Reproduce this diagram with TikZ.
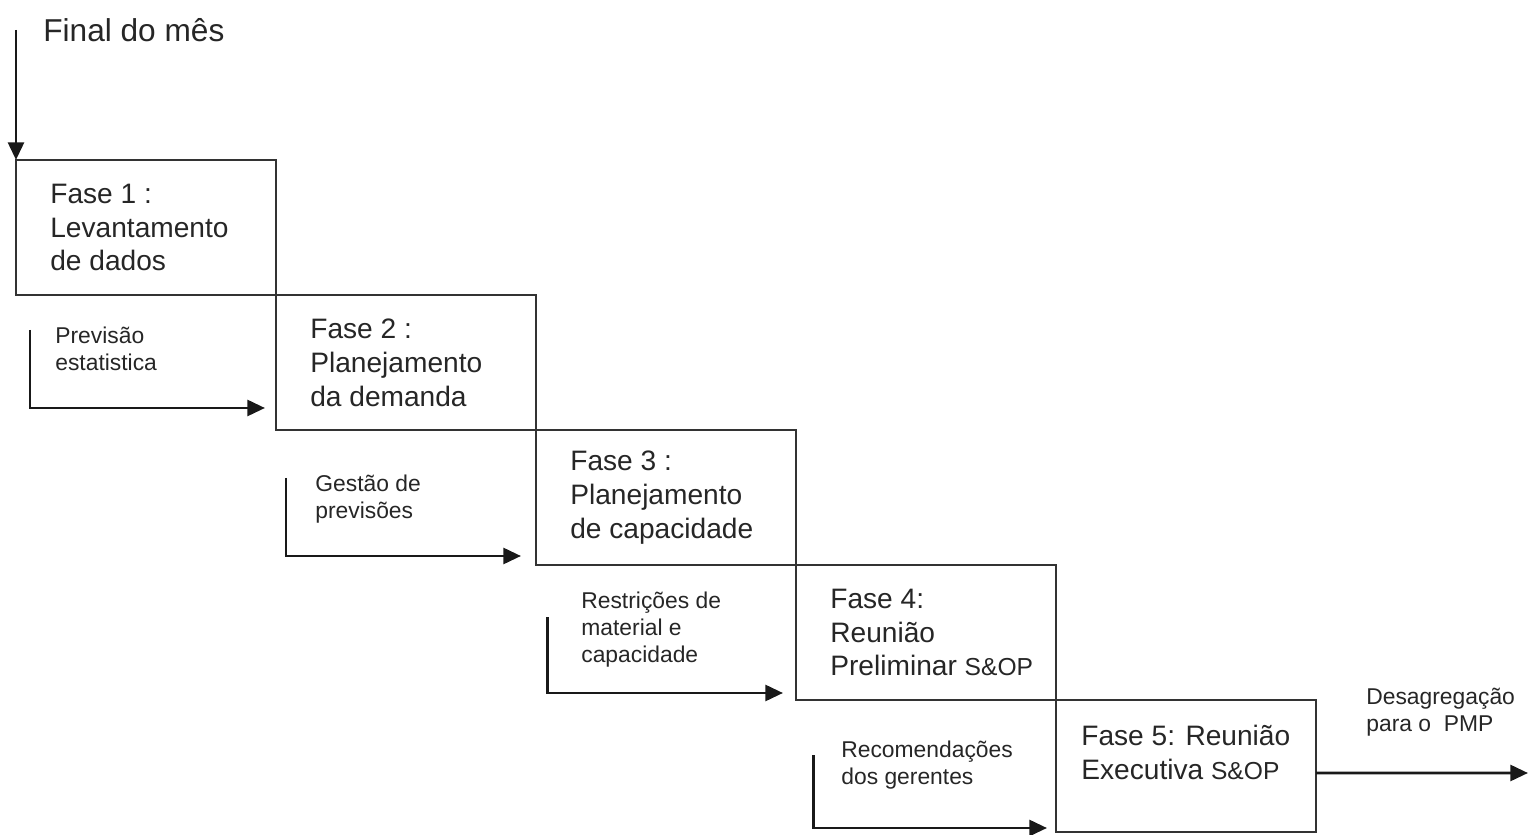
\documentclass[tikz,border=0pt]{standalone}
\usepackage{fontspec}
\setmainfont{Liberation Sans}
\usetikzlibrary{positioning,arrows.meta}

\begin{document}
\begin{tikzpicture}[fase/.style={draw=black!80,line width=1.1pt,minimum width=5.2cm,minimum height=2.7cm,inner sep=0pt,outer sep=0pt,anchor=north west},
  txt/.style={inner sep=0pt,align=left,text=black!85,font=\fontsize{16}{19.3}\selectfont},
  nota/.style={inner sep=0pt,align=left,text=black!85,font=\fontsize{13}{15.4}\selectfont},
  seta/.style={line width=1.7pt,draw=black!90,-{Triangle[length=10pt,width=9pt]}}]
 % \draw[help lines] (0,0) grid (30,16);
  \useasboundingbox (0,0) rectangle (30.6,16.68);
  \node[fase] (f1) at (0.32,13.48) {};
  \node[fase] (f2) at (f1.south east) {};
  \node[fase] (f3) at (f2.south east) {};
  \node[fase] (f4) at (f3.south east) {};
  \node[fase,minimum height=2.64cm] (f5) at (f4.south east) {};
  \node[txt,right=0.68cm of f1.west] (t1) {Fase 1 :\\Levantamento\\de dados};
  \node[txt,right=0.68cm of f2.west] (t2) {Fase 2 :\\Planejamento\\da demanda};
  \node[txt,right=0.68cm of f3.west] (t3) {Fase 3 :\\Planejamento\\de capacidade};
  \node[txt,right=0.68cm of f4.west] (t4) {Fase 4:\\Reunião\\Preliminar {\fontsize{14}{16}\selectfont S\&OP}};
  \node[txt,anchor=west] (t5) at ([shift={(0.5,-1.04)}]f5.north west) {Fase 5: Reunião\\Executiva {\fontsize{14}{16}\selectfont S\&OP}};
  \coordinate (inicio) at (0.32,16.08);
  \node[txt,anchor=west,font=\fontsize{18}{21}\selectfont] (fim) at (0.86,16.08) {Final do mês};
  \draw[seta] (inicio) -- (f1.north west);
  \coordinate (a1) at (0.60,10.08);
  \coordinate (a2) at (5.72,7.12);
  \coordinate (a3) at (10.94,4.34);
  \coordinate (a4) at (16.26,1.58);
  \node[nota,anchor=west] (l1) at (1.10,9.71) {Previsão\\estatistica};
  \node[nota,anchor=west] (l2) at (6.30,6.69) {Gestão de\\previsões};
  \node[nota,anchor=west] (l3) at (11.62,4.09) {Restrições de\\material e\\capacidade};
  \node[nota,anchor=west] (l4) at (16.82,1.37) {Recomendações\\dos gerentes};
  \draw[seta] (a1) |- ([shift={(-0.22,-2.26)}]f2.north west);
  \draw[seta] (a2) |- ([shift={(-0.30,-2.52)}]f3.north west);
  \draw[seta] (a3) |- ([shift={(-0.26,-2.56)}]f4.north west);
  \draw[seta] (a4) |- ([shift={(-0.18,-2.56)}]f5.north west);
  \coordinate (saida) at (30.56,1.22);
  \node[nota,anchor=west] (lsaida) at (27.32,2.43) {Desagregação\\para o\ \ PMP};
  \draw[seta] ([yshift=-0.14cm]f5.east) -- (saida);
\end{tikzpicture}
\end{document}
